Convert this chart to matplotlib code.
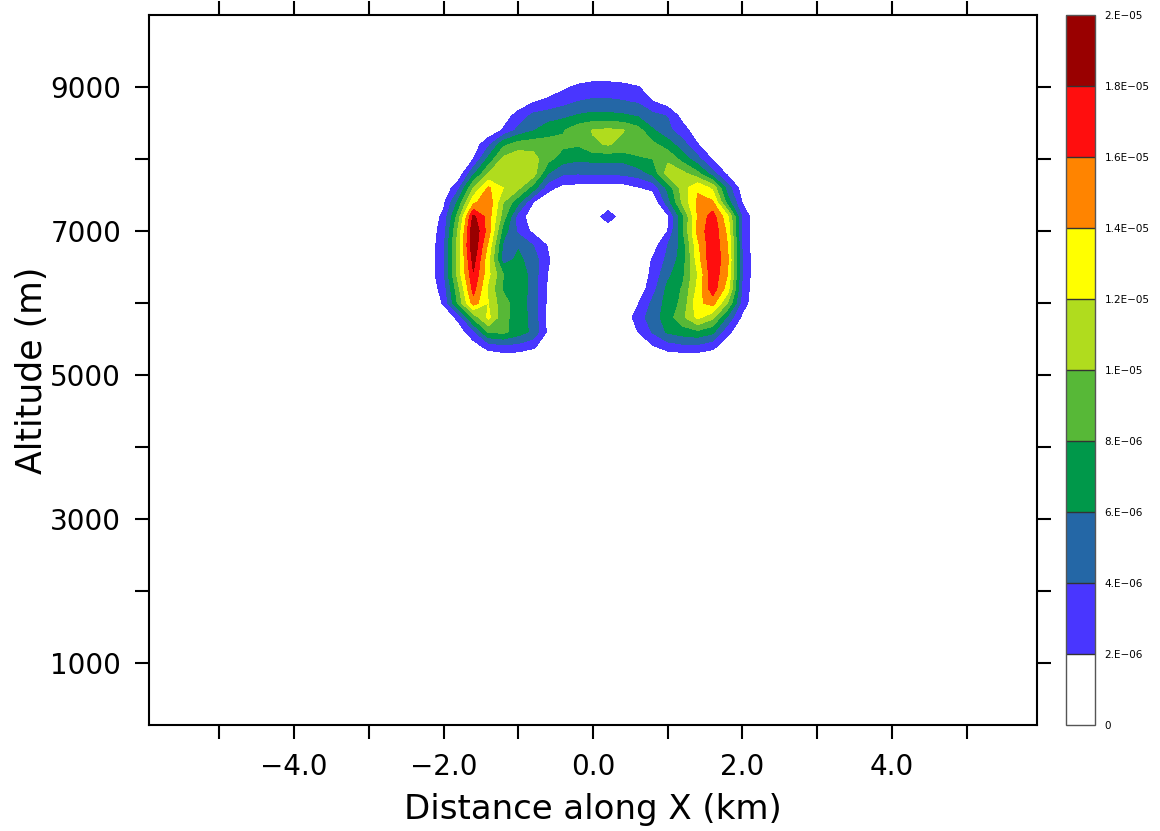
import numpy as np
import matplotlib.pyplot as plt
from matplotlib.colors import ListedColormap, BoundaryNorm

# model grid (km, m) around the cloud
x_km = np.round(np.arange(-2.4, 2.41, 0.2), 1)
z_m = np.arange(9400, 4999, -200)

# mixing ratio, units of 1e-6, one row per level from 9400 m down to 5000 m
q_rows = [
    [0] * 25,
    [0, 0, 0, 0, 0, 0, 0, 0, 0, 0, 0, 0.3, 0.6, 0.6, 0.4, 0, 0, 0, 0, 0, 0, 0, 0, 0, 0],
    [0, 0, 0, 0, 0, 0, 0, 0, 0.3, 0.6, 1.6, 2.4, 2.8, 2.8, 2.6, 2.1, 1.0, 0.2, 0, 0, 0, 0, 0, 0, 0],
    [0, 0, 0, 0, 0, 0, 0, 0.5, 1.8, 2.5, 3.2, 4.0, 4.3, 4.3, 4.1, 3.7, 2.0, 0.8, 0.2, 0, 0, 0, 0, 0, 0],
    [0, 0, 0, 0, 0, 0.2, 1.0, 2.8, 4.5, 5.0, 5.5, 6.2, 6.6, 6.5, 6.3, 5.8, 4.6, 3.9, 1.2, 0.2, 0, 0, 0, 0, 0],
    [0, 0, 0, 0, 0.1, 0.4, 2.2, 4.5, 5.8, 7.2, 7.8, 9.3, 10.1, 10.4, 10.1, 8.8, 6.2, 4.5, 2.8, 0.8, 0.1, 0, 0, 0, 0],
    [0, 0, 0, 0.1, 0.8, 3.5, 7.5, 9.0, 9.2, 8.8, 8.5, 8.2, 9.8, 10.1, 9.6, 9.3, 8.5, 7.0, 4.8, 2.1, 0.5, 0, 0, 0, 0],
    [0, 0, 0, 0.5, 2.0, 6.5, 10.5, 11.4, 10.8, 8.6, 6.8, 6.3, 6.5, 6.6, 6.5, 7.6, 8.0, 9.6, 7.2, 4.6, 1.8, 0.3, 0, 0, 0],
    [0, 0, 0.1, 0.5, 5.5, 10.0, 11.0, 11.3, 11.0, 6.0, 4.3, 4.1, 4.3, 4.2, 4.4, 4.9, 6.5, 11.0, 10.5, 8.5, 4.8, 1.5, 0.2, 0, 0],
    [0, 0, 0.3, 3.5, 10.0, 14.3, 12.0, 10.5, 7.0, 2.6, 1.3, 1.2, 1.0, 0.9, 1.0, 1.8, 2.5, 6.5, 11.0, 13.8, 11.5, 5.0, 0.8, 0, 0],
    [0, 0.1, 1.5, 6.5, 13.5, 15.5, 10.0, 6.5, 2.0, 0.5, 0.3, 0.3, 0.3, 0.5, 0.3, 0.2, 0.3, 5.0, 10.5, 14.3, 14.3, 7.0, 1.8, 0.1, 0],
    [0, 0.5, 2.5, 9.0, 18.5, 15.0, 9.0, 3.0, 0.8, 0.3, 0.2, 0.3, 0.9, 3.0, 1.0, 0.2, 0.2, 1.5, 7.5, 14.2, 17.0, 12.5, 3.5, 0.3, 0],
    [0, 0.6, 3.0, 10.5, 19.8, 15.0, 7.0, 3.5, 1.5, 0.5, 0.2, 0.2, 0.3, 0.6, 0.3, 0.1, 0.3, 2.0, 7.8, 14.5, 17.6, 13.5, 3.6, 0.3, 0],
    [0, 0.6, 3.5, 11.0, 19.8, 13.5, 5.5, 5.8, 4.0, 1.8, 0.3, 0, 0, 0, 0, 0.1, 1.0, 4.0, 6.8, 13.5, 17.7, 14.0, 3.6, 0.3, 0],
    [0, 0.6, 3.5, 11.0, 18.8, 12.5, 5.0, 6.5, 5.0, 2.2, 0.5, 0, 0, 0, 0, 0.3, 2.2, 4.5, 7.0, 13.0, 17.8, 14.5, 3.8, 0.3, 0],
    [0, 0.7, 3.6, 11.0, 17.8, 12.5, 8.0, 7.5, 5.0, 1.9, 0.4, 0, 0, 0, 0, 0.5, 2.5, 5.5, 7.5, 12.0, 17.5, 14.0, 3.8, 0.3, 0],
    [0, 0.6, 2.8, 9.5, 16.8, 11.5, 7.8, 7.5, 5.0, 1.6, 0.3, 0, 0, 0, 0, 0.6, 3.2, 6.5, 8.2, 12.5, 17.2, 13.0, 3.5, 0.2, 0],
    [0, 0.3, 2.2, 8.5, 15.0, 12.0, 8.5, 7.3, 5.0, 1.5, 0.2, 0, 0, 0, 0.2, 1.8, 4.5, 6.8, 8.5, 13.5, 14.8, 10.0, 3.0, 0.2, 0],
    [0, 0, 0.6, 2.5, 8.5, 12.5, 8.5, 7.2, 5.2, 1.2, 0.1, 0, 0, 0, 0.3, 3.0, 5.0, 7.0, 9.5, 12.5, 10.5, 5.5, 1.5, 0, 0],
    [0, 0, 0, 0.8, 3.5, 8.2, 8.5, 7.0, 5.5, 1.5, 0, 0, 0, 0, 0.2, 2.0, 4.2, 6.3, 7.0, 7.5, 6.5, 2.5, 0.5, 0, 0],
    [0, 0, 0, 0, 1.0, 2.8, 3.5, 3.3, 2.4, 0.5, 0, 0, 0, 0, 0, 0.3, 1.8, 3.0, 3.5, 3.5, 2.6, 0.8, 0, 0, 0],
    [0] * 25,
    [0] * 25,
]

levels = np.arange(0, 21, 2) * 1e-6
level_labels = ["0", "2.E\u221206", "4.E\u221206", "6.E\u221206", "8.E\u221206", "1.E\u221205",
                "1.2E\u221205", "1.4E\u221205", "1.6E\u221205", "1.8E\u221205", "2.E\u221205"]
band_colors = ["#ffffff", "#4936ff", "#2467a6", "#00984a", "#57b837",
               "#b0dc1e", "#ffff00", "#ff8400", "#ff0e0e", "#990000"]

x_ticks = [-4, -2, 0, 2, 4]
x_tick_labels = ["\u22124.0", "\u22122.0", "0.0", "2.0", "4.0"]
z_ticks = [1000, 3000, 5000, 7000, 9000]

q = np.array(q_rows) * 1e-6

cmap = ListedColormap(band_colors)
norm = BoundaryNorm(levels, cmap.N)

fig = plt.figure(figsize=(11.6, 8.31), dpi=100)
ax = fig.add_axes([149 / 1160, 106 / 831, 888 / 1160, 710 / 831])

cf = ax.contourf(x_km, z_m, q, levels=levels, cmap=cmap, norm=norm)

ax.set_xlim(-5.94, 5.94)
ax.set_ylim(140, 10000)
ax.set_xticks(x_ticks)
ax.set_xticks([-5, -3, -1, 1, 3, 5], minor=True)
ax.set_xticklabels(x_tick_labels)
ax.set_yticks(z_ticks)
ax.set_yticks([2000, 4000, 6000, 8000], minor=True)
ax.tick_params(which="both", direction="out", length=10, width=1.5,
               top=True, right=True, labelsize=20, pad=10)
for sp in ax.spines.values():
    sp.set_linewidth(1.5)

ax.set_xlabel("Distance along X (km)", fontsize=24.5, labelpad=9)
ax.set_ylabel("Altitude (m)", fontsize=25, labelpad=1)

cax = fig.add_axes([1066 / 1160, 106 / 831, 29 / 1160, 710 / 831])
cb = fig.colorbar(cf, cax=cax, ticks=levels, drawedges=True)
cb.ax.set_yticklabels(level_labels)
cb.ax.tick_params(length=0, labelsize=7.5, pad=7)
cb.outline.set_edgecolor("#555555")
cb.outline.set_linewidth(1)
cb.dividers.set_color("#333333")
cb.dividers.set_linewidth(1)

fig.savefig("out.png", dpi=100)
